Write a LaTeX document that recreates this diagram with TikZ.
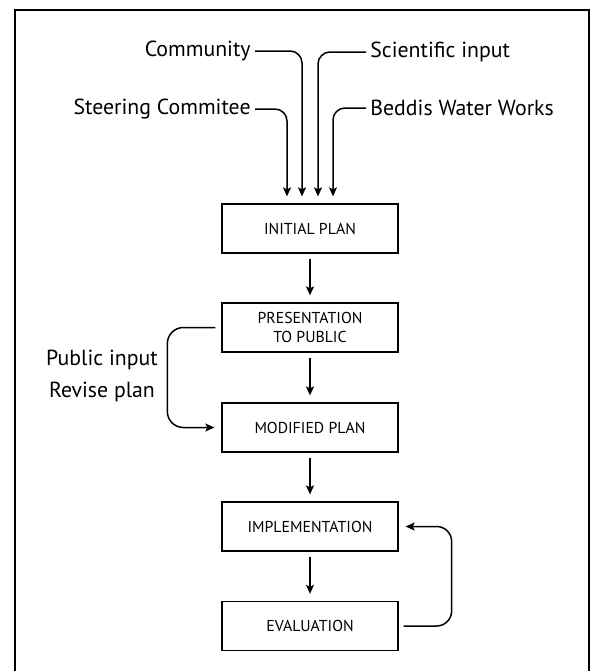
\documentclass[tikz,border=0pt]{standalone}
\usepackage{fontspec}
\setmainfont{PT Sans}
\usetikzlibrary{arrows.meta}

\tikzset{
  planbox/.style={draw, line width=0.65pt, minimum width=88pt, minimum height=24.5pt,
    align=center, inner sep=1pt, font=\fontsize{7.9}{9.5}\selectfont},
  flow/.style={line width=0.75pt, -{Stealth[length=4.5pt,width=4pt,inset=1pt]}, shorten >=3.5pt},
  lbl/.style={inner sep=2pt, font=\fontsize{10.9}{12}\selectfont}
}

\begin{document}
\begin{tikzpicture}[x=0.5pt,y=-0.5pt]
    \useasboundingbox (0,0) rectangle (592,671);
    \draw[line width=1pt] (15,671) |- (589,10) -- (589,671);
    % the plan steps
    \foreach \y/\name/\txt in {228.5/ini/INITIAL PLAN, 327.5/pres/{PRESENTATION\\TO PUBLIC},
        427.5/mod/MODIFIED PLAN, 526.5/impl/IMPLEMENTATION, 626/eval/EVALUATION} {
        \node[planbox] (\name) at (310,\y) {\txt};
    }
    \foreach \a/\b in {ini/pres, pres/mod, mod/impl, impl/eval}
        \draw[flow, shorten <=2.5pt] (\a) -- (\b);
    % inputs to the initial plan
    \node[lbl, anchor=east] (comm) at (255,51) {Community};
    \node[lbl, anchor=east] (steer) at (255,109) {Steering Commitee};
    \node[lbl, anchor=west] (sci) at (366,52) {Scientific input};
    \node[lbl, anchor=west] (bed) at (366,108) {Beddis Water Works};
    \draw[flow, rounded corners=6pt] (steer) -| ([xshift=-11.5pt]ini.north);
    \draw[flow, rounded corners=6pt] (comm) -| ([xshift=-4pt]ini.north);
    \draw[flow, rounded corners=6pt] (sci) -| ([xshift=4pt]ini.north);
    \draw[flow, rounded corners=6pt] (bed) -| ([xshift=11.5pt]ini.north);
    % feedback loops
    \node[lbl] (pubin) at (102,360) {Public input};
    \node[lbl] (revise) at (102,392) {Revise plan};
    \draw[flow, shorten <=3pt, rounded corners=8pt] (pres.west) -- ++(-27pt,0) |- (mod.west);
    \draw[flow, shorten <=2.5pt, rounded corners=7.5pt] (eval.east) -- ++(26.5pt,0) |- (impl.east);
\end{tikzpicture}
\end{document}
